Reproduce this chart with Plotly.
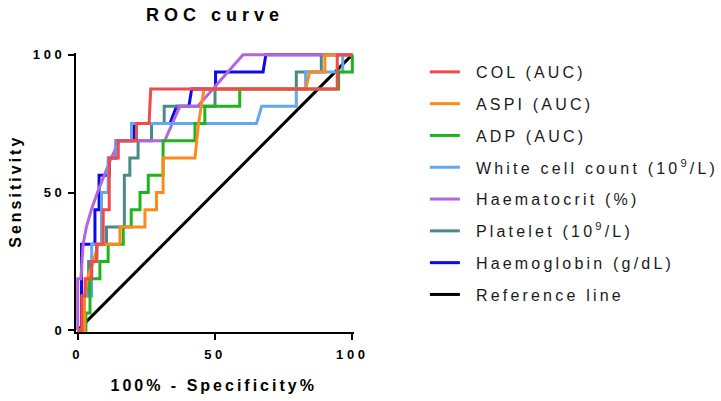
import plotly.graph_objects as go

# ---------------- data ----------------
series_names = [
    "COL (AUC)",
    "ASPI (AUC)",
    "ADP (AUC)",
    "White cell count (10<sup>9</sup>/L)",
    "Haematocrit (%)",
    "Platelet (10<sup>9</sup>/L)",
    "Haemoglobin (g/dL)",
    "Reference line",
]

col_x = [0, 1.5, 1.5, 2.7, 2.7, 5.1, 5.1, 6.9, 6.9, 9.3, 9.3, 11.5, 11.5, 14.8, 14.8, 21.4, 21.4, 26.0, 26.6, 94.5, 94.5, 100]
col_y = [0, 0, 12.5, 12.5, 18.75, 18.75, 25, 25, 31.25, 31.25, 43.75, 43.75, 62.5, 62.5, 68.75, 68.75, 75, 75, 87.5, 87.5, 100, 100]

aspi_x = [0, 2.5, 2.5, 3.5, 5.7, 7.5, 15.4, 15.4, 24.5, 24.5, 28.7, 28.7, 31.1, 31.1, 42.7, 44.0, 46.0, 83.0, 84.5, 90.0, 90.0, 100]
aspi_y = [0, 0, 12.5, 18.75, 25, 31.25, 31.25, 37.5, 37.5, 43.75, 43.75, 50, 50, 62.5, 62.5, 75, 87.5, 87.5, 93.75, 93.75, 100, 100]

adp_x = [0, 3, 3, 4.5, 4.5, 8.1, 8.1, 11.1, 11.1, 16.6, 16.6, 19.5, 19.5, 22.7, 22.7, 25.7, 25.7, 31.1, 31.1, 42.7, 42.7, 46.3, 46.3, 59, 59, 95, 95, 100, 100]
adp_y = [0, 0, 6.25, 6.25, 18.75, 18.75, 25, 25, 31.25, 31.25, 37.5, 37.5, 43.75, 43.75, 50, 50, 56.25, 56.25, 68.75, 68.75, 75, 75, 81.25, 81.25, 87.5, 87.5, 93.75, 93.75, 100]

wcc_x = [0, 2, 2, 5.1, 5.1, 8.7, 8.7, 11.1, 11.1, 14.2, 14.2, 19.6, 19.6, 65.1, 67, 79.6, 79.6, 83, 83, 96.5, 96.5, 100]
wcc_y = [0, 0, 12.5, 12.5, 31.25, 31.25, 50, 50, 62.5, 62.5, 68.75, 68.75, 75, 75, 81.25, 81.25, 87.5, 87.5, 93.75, 93.75, 100, 100]

hct_x = [0, 0, 1.2, 2.0, 3.2, 5.0, 7.2, 9.6, 12.2, 15.2, 31.7, 37.2, 43.7, 60.2, 100]
hct_y = [0, 18.75, 18.75, 31.25, 37.5, 43.75, 50, 56.25, 62.5, 68.75, 68.75, 81.25, 81.25, 100, 100]

plt_x = [0, 2, 2, 4, 4, 7, 7, 10.5, 10.5, 17, 17, 19, 19, 22, 22, 26.9, 26.9, 31.5, 31.5, 50, 50, 79.6, 79.6, 88.7, 88.7, 100]
plt_y = [0, 0, 12.5, 12.5, 25, 25, 31.25, 31.25, 37.5, 37.5, 56.25, 56.25, 62.5, 62.5, 68.75, 68.75, 75, 75, 81.25, 81.25, 87.5, 87.5, 93.75, 93.75, 100, 100]

hb_x = [0, 1.4, 1.4, 6.3, 6.3, 7.8, 7.8, 11.5, 11.5, 14, 14, 20.5, 20.5, 33.6, 36, 40.5, 41.5, 50.2, 50.2, 67.5, 68.5, 100]
hb_y = [0, 0, 31.25, 31.25, 43.75, 43.75, 56.25, 56.25, 62.5, 62.5, 68.75, 68.75, 75, 75, 81.25, 81.25, 87.5, 87.5, 93.75, 93.75, 100, 100]

ref_x = [0, 100]
ref_y = [0, 100]

x_tick_vals = [0, 50, 100]
x_tick_text = ["0", "50", "100"]
y_tick_vals = [0, 50, 100]
y_tick_text = ["0", "50", "100"]

# ---------------- styling ----------------
colors = ["#F04B4B", "#FF8A1C", "#1EB41E", "#62A8EE", "#B565DC", "#4A8A86", "#0A0AEB", "#000000"]
xs = [col_x, aspi_x, adp_x, wcc_x, hct_x, plt_x, hb_x, ref_x]
ys = [col_y, aspi_y, adp_y, wcc_y, hct_y, plt_y, hb_y, ref_y]

FONT = "Liberation Sans, Arial, sans-serif"

fig = go.Figure()
# draw in reverse so the first data set sits on top (as in the reference)
for i in reversed(range(len(series_names))):
    fig.add_trace(go.Scatter(
        x=xs[i], y=ys[i], mode="lines", name=series_names[i],
        line=dict(color=colors[i], width=3),
        legendrank=i + 1, legendgroup="g%d" % i,
        hoverinfo="skip",
    ))

axis_common = dict(
    showline=True, linecolor="black", linewidth=2.2,
    ticks="outside", ticklen=6, tickwidth=2.2, tickcolor="black",
    showgrid=False, zeroline=False,
    tickfont=dict(family=FONT, size=13, color="black", weight="bold"),
    fixedrange=True,
)

fig.update_layout(
    template="none",
    width=721, height=401,
    margin=dict(l=76, r=367, t=53, b=69, pad=0),
    paper_bgcolor="white", plot_bgcolor="white",
    font=dict(family=FONT, color="black"),
    title=dict(text="ROC curve", x=0.5, xref="paper", xanchor="center",
               y=1 - 14.5 / 401, yref="container", yanchor="middle",
               font=dict(family=FONT, size=18, weight="bold", color="black")),
    xaxis=dict(range=[-0.6, 100.6], tickvals=x_tick_vals, ticktext=x_tick_text,
               ticklabelstandoff=3, **axis_common),
    yaxis=dict(range=[-0.6, 100.6], tickvals=y_tick_vals, ticktext=y_tick_text,
               ticklabelstandoff=0, **axis_common),
    legend=dict(x=1.255, xanchor="left", xref="paper", y=0.993, yanchor="top", yref="paper",
                font=dict(family=FONT, size=16, color="#1a1a1a"),
                tracegroupgap=8, bgcolor="rgba(0,0,0,0)", itemclick=False, itemdoubleclick=False),
    showlegend=True,
    annotations=[
        dict(text="100% - Specificity%", xref="paper", yref="paper",
             x=0.493, y=-0.19, xanchor="center", yanchor="middle", showarrow=False,
             font=dict(family=FONT, size=16, weight="bold", color="black")),
        dict(text="Sensitivity", xref="paper", yref="paper",
             x=-0.219, y=0.505, xanchor="center", yanchor="middle", showarrow=False,
             textangle=-90,
             font=dict(family=FONT, size=16, weight="bold", color="black")),
    ],
)

post = """
document.documentElement.style.margin = '0';
document.body.style.margin = '0';
document.body.style.padding = '0';
var gd = document.getElementById('{plot_id}');
function ls(sel, v){ gd.querySelectorAll(sel).forEach(function(e){ e.style.letterSpacing = v; }); }
ls('.gtitle', '5px');
ls('.annotation-text', '3px');
ls('.xtick text', '3.6px');
ls('.ytick text', '3.6px');
ls('.legendtext', '3.2px');
gd.querySelectorAll('.legendtext').forEach(function(e){
  var x = parseFloat(e.getAttribute('x') || '0'); e.setAttribute('x', x + 11);
});
gd.querySelectorAll('.legend [clip-path]').forEach(function(e){ e.removeAttribute('clip-path'); });
"""

fig.write_html("out.html", config={"displayModeBar": False, "responsive": False}, post_script=post)
